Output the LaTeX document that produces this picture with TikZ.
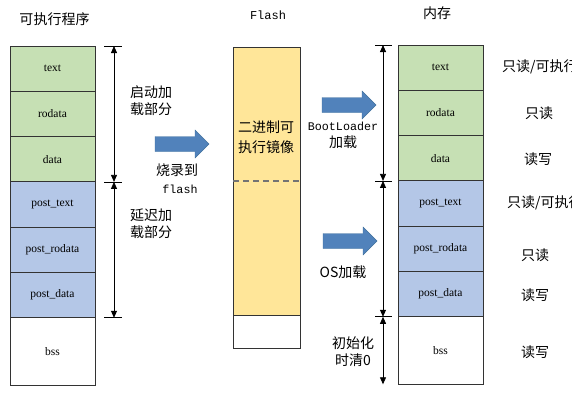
\documentclass[tikz,border=0pt]{standalone}
\usepackage{fontspec}
\setmainfont{Liberation Serif}
\setmonofont{Liberation Mono}
\newfontfamily\cjk{Noto Sans CJK SC}
\usepackage{tikz}
\usetikzlibrary{positioning}
\usetikzlibrary{arrows.meta}
\definecolor{codegreen}{HTML}{C6E0B4}
\definecolor{postblue}{HTML}{B4C7E7}
\definecolor{flashyellow}{HTML}{FFE699}
\definecolor{loadblue}{HTML}{5182BB}
\definecolor{loadedge}{HTML}{41719C}
\tikzset{
  seg/.style={draw=black!80, line width=0.9pt, minimum width=85pt, minimum height=45.3pt, inner sep=0pt, outer sep=0pt, font=\fontsize{11.5}{13}\selectfont},
  cn/.style={font=\cjk\fontsize{14}{17.5}\selectfont, inner sep=0pt},
  mono/.style={font=\ttfamily\fontsize{11.7}{14}\selectfont, inner sep=0pt},
  spanarrow/.style={{Triangle[length=7pt,width=6pt]}-{Triangle[length=7pt,width=6pt]}, line width=0.8pt},
  tickline/.style={line width=0.8pt},
  splitline/.style={draw=black!55, line width=1.2pt, dash pattern=on 6pt off 4pt},
  loadarrow/.pic={\filldraw[fill=loadblue, draw=loadedge, line width=0.4pt] (0,-7.5) -- (40,-7.5) -- (40,-14) -- (54,0) -- (40,14) -- (40,7.5) -- (0,7.5) -- cycle;}
}

\begin{document}
\begin{tikzpicture}[x=1pt, y=-1pt]
\useasboundingbox (0,0) rectangle (572,402);
\clip (0,0) rectangle (572,402);
% program and memory columns
\foreach \col/\x/\y in {l/10/46, r/398/45} {
  \foreach \sec/\lbl/\clr [count=\i] in {text/text/codegreen, rodata/rodata/codegreen, data/data/codegreen, ptext/post\_text/postblue, prodata/post\_rodata/postblue, pdata/post\_data/postblue} {
    \node[seg, fill=\clr, anchor=north west] (\col\sec) at (\x, {\y+(\i-1)*45.3}) {\lbl};
  }
  \node[seg, fill=white, minimum height=67.5pt, anchor=north] (\col bss) at (\col pdata.south) {bss};
}
% flash image
\node[seg, fill=flashyellow, minimum width=67pt, minimum height=268pt, anchor=north west] (image) at (233,47) {};
\node[seg, fill=white, minimum width=67pt, minimum height=33pt, anchor=north] (imgbss) at (image.south) {};
\draw[splitline] (image.north west) ++(0,134) -- ++(67,0);
\node[cn, align=center, font=\cjk\fontsize{14}{20}\selectfont] (imgtxt) at (266,137) {二进制可\\执行镜像};
% titles
\node[cn] (exetitle) at (54.5,19) {可执行程序};
\node[mono, font=\ttfamily\fontsize{12}{14}\selectfont] (flashtitle) at (268,15) {Flash};
\node[cn] (ramtitle) at (437,13) {内存};
% span marks
\coordinate (ldim) at (114,0);
\coordinate (rdim) at (383,0);
\foreach \n in {ltext.north, ldata.south, lpdata.south} {
  \draw[tickline] (ldim |- \n) ++(-10,0) -- ++(18,0);
}
\foreach \n in {rtext.north, rdata.south, rpdata.south} {
  \draw[tickline] (rdim |- \n) ++(-8,0) -- ++(17,0);
}
\draw[spanarrow] (ldim |- ltext.north) -- (ldim |- ldata.south);
\draw[spanarrow] (ldim |- ldata.south) -- (ldim |- lpdata.south);
\draw[spanarrow] (rdim |- rtext.north) -- (rdim |- rdata.south);
\draw[spanarrow] (rdim |- rdata.south) -- (rdim |- rpdata.south);
\draw[spanarrow] (rdim |- rpdata.south) -- (rdim |- rbss.south);
\node[cn, align=left, anchor=west] (bootpart) at (130,100.5) {启动加\\载部分};
\node[cn, align=left, anchor=west] (latepart) at (130,223.5) {延迟加\\载部分};
\node[cn, align=center] (bssclear) at (353,351.5) {初始化\\时清0};
% load steps
\pic (burnarrow) at (155,144) {loadarrow};
\pic (bootarrow) at (322,105) {loadarrow};
\pic (osarrow) at (323,241) {loadarrow};
\node[cn] (burn) at (177,170) {烧录到};
\node[mono] (burnflash) at (180,189) {flash};
\node[mono] (bootname) at (343,126) {BootLoader};
\node[cn] (bootload) at (343,142) {加载};
\node[cn] (osload) at (343,272) {OS加载};
% access modes
\node[cn, anchor=west] (rtextmode) at (502,67) {只读/可执行};
\node[cn] (rrodatamode) at (539,113) {只读};
\node[cn] (rdatamode) at (538,159) {读写};
\node[cn, anchor=west] (rptextmode) at (507,203) {只读/可执行};
\node[cn] (rprodatamode) at (535,255) {只读};
\node[cn] (rpdatamode) at (535,295) {读写};
\node[cn] (rbssmode) at (535,352) {读写};
\end{tikzpicture}
\end{document}
